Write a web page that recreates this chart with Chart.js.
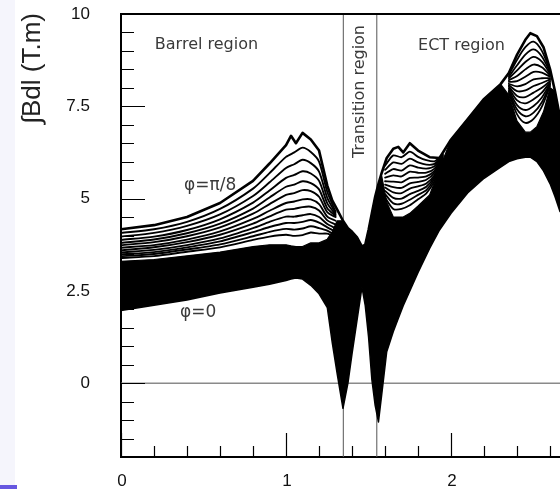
<!DOCTYPE html>
<html>
<head>
<meta charset="utf-8">
<script src="https://cdn.jsdelivr.net/npm/chart.js@4.4.1/dist/chart.umd.min.js"></script>
<style>
    html, body { margin: 0; padding: 0; background: #fff; }
    #wrap { position: relative; width: 560px; height: 489px; overflow: hidden; }
    #edge { position: absolute; left: 0; top: 0; width: 15px; height: 489px; background: #f5f5fc; }
    #edgeBar { position: absolute; left: 0; top: 485px; width: 17px; height: 4px; background: #6657e0; }
    canvas { position: absolute; left: 0; top: 0; }
</style>
</head>
<body>
<div id="wrap">
    <div id="edge"></div>
    <div id="edgeBar"></div>
    <canvas id="fieldChart" width="560" height="489"></canvas>
</div>
<script>
//eta grid shared by the two envelopes and the top of the dense core
const etaGrid = [0, 0.2, 0.4, 0.6, 0.8, 0.9, 1.0, 1.03, 1.06, 1.1, 1.15, 1.2, 1.25, 1.28, 1.31, 1.345, 1.375, 1.4, 1.43, 1.46,
    1.48, 1.5, 1.52, 1.54, 1.56, 1.58, 1.61, 1.65, 1.68, 1.71, 1.75, 1.8, 1.87, 1.93, 2.0, 2.1, 2.2, 2.3, 2.35, 2.4,
    2.45, 2.48, 2.52, 2.56, 2.6, 2.63, 2.66];

//phi = pi/8 curve (upper edge of the family)
const phiPi8 = [4.17, 4.28, 4.5, 4.88, 5.48, 5.95, 6.45, 6.7, 6.5, 6.78, 6.6, 6.3, 5.35, 4.95, 4.7, 4.4, 4.2, 4.1, 3.95, 3.7,
    3.75, 4.15, 4.6, 5.05, 5.4, 5.7, 6.1, 6.35, 6.4, 6.25, 6.5, 6.3, 6.12, 6.1, 6.6, 7.15, 7.7, 8.1, 8.4, 8.9,
    9.3, 9.48, 9.4, 9.1, 8.5, 7.9, 7.2];

//phi = 0 curve (lower edge of the family)
const phi0 = [1.97, 2.11, 2.25, 2.44, 2.6, 2.68, 2.78, 2.82, 2.85, 2.82, 2.65, 2.42, 2.05, 1.1, 0.25, -0.68, 0.0, 0.8, 1.7, 2.6,
    2.1, 1.25, 0.1, -0.6, -1.05, -0.3, 0.85, 1.4, 1.75, 2.1, 2.5, 3.0, 3.65, 4.15, 4.6, 5.15, 5.55, 5.85, 6.0, 6.08,
    6.12, 6.12, 6.0, 5.75, 5.4, 5.05, 4.65];

//where the curves crowd together into solid black
const denseTop = [3.3, 3.35, 3.45, 3.55, 3.7, 3.75, 3.75, 3.72, 3.7, 3.7, 3.8, 3.8, 3.9, 4.1, 4.4, 4.4, 4.2, 4.1, 3.95, 3.7,
    3.75, 4.15, 4.6, 5.05, 5.3, 5.6, 4.9, 4.5, 4.5, 4.5, 4.6, 4.8, 5.1, 5.8, 6.6, 7.15, 7.7, 8.1, 7.8, 7.1,
    6.8, 6.8, 6.95, 7.35, 8.0, 7.9, 7.2];

//separated curves in the barrel region
const barrelEta = [0, 0.2, 0.4, 0.6, 0.8, 0.9, 1.0, 1.05, 1.1, 1.15, 1.2, 1.25, 1.3];
const barrelCurves = [
    [4.07, 4.17, 4.37, 4.72, 5.27, 5.69, 6.13, 6.25, 6.38, 6.26, 6.0, 5.18, 4.65],
    [3.97, 4.07, 4.26, 4.57, 5.07, 5.44, 5.83, 5.93, 6.05, 5.96, 5.73, 5.02, 4.61],
    [3.88, 3.97, 4.15, 4.44, 4.89, 5.22, 5.56, 5.64, 5.74, 5.68, 5.48, 4.87, 4.57],
    [3.80, 3.89, 4.06, 4.32, 4.73, 5.03, 5.32, 5.38, 5.47, 5.42, 5.25, 4.74, 4.53],
    [3.74, 3.82, 3.98, 4.22, 4.59, 4.85, 5.10, 5.15, 5.23, 5.20, 5.05, 4.63, 4.50],
    [3.67, 3.74, 3.89, 4.11, 4.45, 4.67, 4.88, 4.92, 4.98, 4.98, 4.85, 4.51, 4.40],
    [3.60, 3.68, 3.82, 4.02, 4.32, 4.52, 4.70, 4.72, 4.77, 4.78, 4.68, 4.41, 4.30],
    [3.54, 3.61, 3.74, 3.92, 4.20, 4.37, 4.51, 4.51, 4.55, 4.58, 4.50, 4.31, 4.20],
    [3.49, 3.55, 3.68, 3.84, 4.09, 4.23, 4.34, 4.34, 4.37, 4.42, 4.35, 4.22, 4.10],
    [3.44, 3.50, 3.62, 3.76, 3.98, 4.10, 4.18, 4.16, 4.19, 4.25, 4.20, 4.13, 4.00],
    [3.39, 3.44, 3.56, 3.68, 3.88, 3.97, 4.02, 3.99, 4.01, 4.08, 4.05, 4.05, 3.95]
];

//separated curves at the start of the ECT region
const ectLowEta = [1.6, 1.65, 1.7, 1.75, 1.8, 1.85, 1.9, 1.95];
const ectLowCurves = [
    [5.89, 6.17, 6.12, 6.27, 6.13, 6.04, 6.01, 6.20],
    [5.78, 5.98, 5.94, 6.08, 5.98, 5.92, 5.94, 6.18],
    [5.67, 5.80, 5.76, 5.90, 5.84, 5.81, 5.88, 6.16],
    [5.57, 5.63, 5.60, 5.73, 5.70, 5.70, 5.81, 6.14],
    [5.47, 5.46, 5.44, 5.56, 5.57, 5.60, 5.75, 6.12],
    [5.38, 5.31, 5.29, 5.41, 5.45, 5.51, 5.70, 6.10],
    [5.30, 5.17, 5.15, 5.27, 5.33, 5.41, 5.64, 6.08],
    [5.21, 5.02, 5.00, 5.12, 5.21, 5.32, 5.59, 6.06],
    [5.12, 4.87, 4.86, 4.97, 5.10, 5.23, 5.54, 6.04],
    [5.03, 4.72, 4.72, 4.82, 4.98, 5.14, 5.48, 6.02]
];

//separated curves around the ECT maximum
const ectPeakEta = [2.35, 2.4, 2.45, 2.5, 2.55, 2.6];
const ectPeakCurves = [
    [8.35, 8.76, 9.10, 9.25, 9.00, 8.46],
    [8.30, 8.61, 8.90, 9.04, 8.85, 8.42],
    [8.26, 8.47, 8.70, 8.84, 8.71, 8.38],
    [8.21, 8.32, 8.50, 8.63, 8.56, 8.34],
    [8.16, 8.18, 8.30, 8.43, 8.41, 8.30],
    [8.11, 8.04, 8.10, 8.23, 8.26, 8.26],
    [8.07, 7.91, 7.93, 8.05, 8.13, 8.23],
    [8.03, 7.78, 7.75, 7.87, 8.00, 8.19],
    [7.99, 7.66, 7.58, 7.69, 7.87, 8.16],
    [7.94, 7.53, 7.40, 7.51, 7.74, 8.12],
    [7.90, 7.41, 7.23, 7.33, 7.61, 8.09],
    [7.86, 7.28, 7.05, 7.16, 7.49, 8.05]
];

//guide lines
const zeroLineEta = [0, 2.66];
const zeroLine = [0, 0];
const regionBounds = [1.347, 1.55];

//axis ticks
const xTickValues = [0, 1, 2];
const yTickValues = [0, 2.5, 5, 7.5, 10];
const yTitle = '∫Bdl (T.m)';

//helper to pair eta values with field integrals
function toPoints(etas, vals) {
    return etas.map((x, i) => ({ x: x, y: vals[i] }));
}

function lineSet(points, width, order, extra) {
    return Object.assign({
        data: points,
        borderColor: '#000',
        borderWidth: width,
        pointRadius: 0,
        fill: false,
        order: order,
        borderJoinStyle: 'round',
        borderCapStyle: 'round'
    }, extra || {});
}

const datasets = [];
datasets.push(lineSet(toPoints(zeroLineEta, zeroLine), 1.5, 20, { borderColor: '#8a8a8a' }));
regionBounds.forEach(b => {
    datasets.push(lineSet(toPoints([b, b], [-2, 10]), 1, 20, { borderColor: '#555' }));
});
datasets.push(lineSet(toPoints(etaGrid, phi0), 1.5, 10, { fill: '+1', backgroundColor: '#000' }));
datasets.push(lineSet(toPoints(etaGrid, denseTop), 1.2, 10));
datasets.push(lineSet(toPoints(etaGrid, phiPi8), 2.6, 1));
barrelCurves.forEach(c => datasets.push(lineSet(toPoints(barrelEta, c), 1.9, 2, { tension: 0.25 })));
ectLowCurves.forEach(c => datasets.push(lineSet(toPoints(ectLowEta, c), 1.8, 2, { tension: 0.25 })));
ectPeakCurves.forEach(c => datasets.push(lineSet(toPoints(ectPeakEta, c), 1.8, 2, { tension: 0.3 })));

//text placed in data coordinates
const notes = [
    { text: 'Barrel region', eta: 0.205, val: 9.16, rotate: false, align: 'left', size: 16 },
    { text: 'ECT region', eta: 1.8, val: 9.13, rotate: false, align: 'left', size: 16 },
    { text: 'Transition region', eta: 1.448, val: 7.9, rotate: true, align: 'center', size: 16 },
    { text: 'φ=π/8', eta: 0.54, val: 5.34, rotate: false, align: 'center', size: 17 },
    { text: 'φ=0', eta: 0.467, val: 1.9, rotate: false, align: 'center', size: 17 }
];

//plugin for the frame top, inward tick marks, tick labels and the text inside the plot
const frameAndNotes = {
    id: 'frameAndNotes',
    afterDraw(chart) {
        const { ctx, chartArea, scales } = chart;
        const { left, right, top, bottom } = chartArea;
        ctx.save();
        ctx.strokeStyle = '#000';
        ctx.lineWidth = 2;
        ctx.beginPath();
        ctx.moveTo(left - 1, top);
        ctx.lineTo(right + 2, top);
        ctx.stroke();

        ctx.lineWidth = 1.2;
        ctx.beginPath();
        for (let i = -4; i <= 20; i++) {
            const py = Math.round(scales.y.getPixelForValue(i * 0.5)) + 0.5;
            const len = i % 5 === 0 ? 24 : 13;
            ctx.moveTo(left, py);
            ctx.lineTo(left + len, py);
        }
        for (let i = 0; i <= 13; i++) {
            const px = Math.round(scales.x.getPixelForValue(i * 0.2)) + 0.5;
            const len = i % 5 === 0 ? 24 : 11;
            ctx.moveTo(px, bottom);
            ctx.lineTo(px, bottom - len);
        }
        ctx.stroke();

        //tick labels
        ctx.fillStyle = '#111';
        ctx.font = '17px "Liberation Sans"';
        ctx.textBaseline = 'middle';
        ctx.textAlign = 'right';
        yTickValues.forEach(v => ctx.fillText(String(v), left - 31, scales.y.getPixelForValue(v)));
        ctx.textAlign = 'center';
        xTickValues.forEach(v => ctx.fillText(String(v), scales.x.getPixelForValue(v) + 1, bottom + 24));

        //y axis title
        ctx.save();
        ctx.fillStyle = '#222';
        ctx.font = '26px "Liberation Sans"';
        ctx.translate(left - 88, top - 1);
        ctx.rotate(-Math.PI / 2);
        ctx.textAlign = 'right';
        ctx.fillText(yTitle, 0, 0);
        ctx.restore();

        ctx.fillStyle = '#3a3a3a';
        notes.forEach(n => {
            const px = scales.x.getPixelForValue(n.eta);
            const py = scales.y.getPixelForValue(n.val);
            ctx.font = n.size + 'px "DejaVu Sans"';
            ctx.textAlign = n.align;
            if (n.rotate) {
                ctx.save();
                ctx.translate(px, py);
                ctx.rotate(-Math.PI / 2);
                ctx.fillText(n.text, 0, 0);
                ctx.restore();
            } else {
                ctx.fillText(n.text, px, py);
            }
        });
        ctx.restore();
    }
};

new Chart(document.getElementById('fieldChart'), {
    type: 'line',
    data: { datasets: datasets },
    options: {
        responsive: false,
        animation: false,
        devicePixelRatio: 1,
        layout: { padding: { top: 14, right: 0, bottom: 32, left: 121 } },
        plugins: {
            legend: { display: false },
            tooltip: { enabled: false }
        },
        scales: {
            x: {
                type: 'linear',
                min: 0,
                max: 2.66,
                grid: { display: false, drawTicks: false },
                border: { display: true, color: '#000', width: 2 },
                ticks: { display: false }
            },
            y: {
                type: 'linear',
                min: -2,
                max: 10,
                grid: { display: false, drawTicks: false },
                border: { display: true, color: '#000', width: 2 },
                ticks: { display: false }
            }
        }
    },
    plugins: [frameAndNotes]
});
</script>
</body>
</html>
